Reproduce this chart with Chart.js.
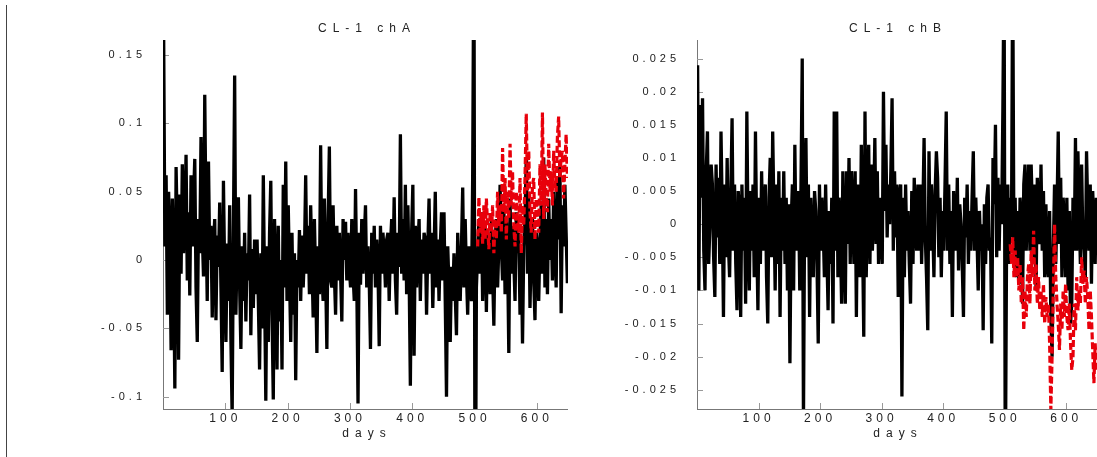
<!DOCTYPE html>
<html>
<head>
<meta charset="utf-8">
<script src="https://cdn.jsdelivr.net/npm/chart.js@4.4.0/dist/chart.umd.min.js"></script>
<style>
  body { margin: 0; width: 1097px; height: 457px; background: #fff; position: relative; overflow: hidden;
         font-family: "Liberation Sans", Arial, sans-serif; }
  .frame { position: absolute; left: 6px; top: 5px; width: 1px; height: 452px; background: #444; }
  .box { position: absolute; top: 0; height: 457px; }
  .lbl { position: absolute; font-size: 12px; color: #222; letter-spacing: 6px; padding-left: 6px;
         white-space: nowrap; transform: translate(-50%, -50%); }
</style>
</head>
<body>
<div class="frame"></div>
<div class="box" style="left:90px;width:478px"><canvas id="chA"></canvas></div>
<div class="box" style="left:610px;width:487px"><canvas id="chB"></canvas></div>
<div class="lbl" style="left:364px;top:28px">CL-1 chA</div>
<div class="lbl" style="left:895px;top:28px">CL-1 chB</div>
<div class="lbl" style="left:364px;top:433px">days</div>
<div class="lbl" style="left:895px;top:433px">days</div>
<script>
const xTicks = [100, 200, 300, 400, 500, 600];
const yTicksA = [-0.1, -0.05, 0, 0.05, 0.1, 0.15];
const yLabelsA = ["-0.1", "-0.05", "0", "0.05", "0.1", "0.15"];
const yTicksB = [-0.025, -0.02, -0.015, -0.01, -0.005, 0, 0.005, 0.01, 0.015, 0.02, 0.025];
const yLabelsB = ["-0.025", "-0.02", "-0.015", "-0.01", "-0.005", "0", "0.005", "0.01", "0.015", "0.02", "0.025"];

// sampled every 2 days; each row of 15 covers 30 days
const step = 2;
const blackStart = 1;
const redStartA = 505;
const redStartB = 509;

const chA = [
  0.170, 0.010, 0.062, -0.040, 0.050, 0.015, -0.066, 0.045, 0.000, -0.094, 0.068, 0.020, -0.073, 0.048, -0.010,
  0.070, 0.005, 0.030, 0.077, -0.015, 0.035, -0.026, 0.062, 0.010, 0.045, 0.074, -0.020, -0.060, 0.030, 0.005,
  0.090, 0.020, -0.012, 0.121, 0.030, -0.030, 0.072, 0.000, 0.025, -0.042, 0.010, 0.030, -0.044, 0.018, -0.005,
  0.042, -0.020, -0.082, 0.058, -0.010, -0.060, 0.012, -0.030, 0.040, -0.058, -0.115, 0.020, 0.135, -0.040, 0.010,
  0.046, -0.020, -0.065, 0.010, -0.030, 0.020, -0.045, 0.005, -0.015, 0.048, -0.055, 0.008, -0.035, 0.015, -0.025,
  0.015, -0.030, -0.080, 0.005, -0.050, 0.062, -0.020, -0.103, 0.010, -0.060, 0.020, 0.058, -0.040, -0.102, 0.030,
  -0.010, -0.080, 0.025, -0.045, 0.000, -0.080, 0.055, -0.020, 0.072, -0.030, 0.040, -0.010, -0.060, 0.020, -0.040,
  0.005, -0.088, 0.000, -0.020, 0.022, -0.030, 0.018, -0.020, 0.005, 0.062, -0.010, 0.025, -0.025, 0.040, 0.000,
  -0.042, 0.030, -0.015, -0.068, 0.010, -0.025, 0.084, -0.010, -0.030, 0.045, -0.010, -0.065, 0.030, 0.083, -0.015,
  -0.020, 0.040, -0.010, -0.040, 0.025, -0.015, 0.020, -0.010, -0.045, 0.030, 0.000, 0.028, -0.015, 0.020, -0.005,
  -0.020, 0.030, -0.010, -0.030, 0.052, -0.015, -0.105, 0.020, -0.018, 0.030, -0.010, 0.015, 0.040, -0.020, 0.010,
  -0.015, -0.065, 0.020, -0.010, 0.025, -0.020, 0.015, -0.005, -0.063, 0.025, -0.010, 0.020, 0.005, -0.020, 0.015,
  0.020, -0.030, 0.010, 0.030, -0.010, 0.046, -0.015, -0.040, 0.020, -0.005, 0.092, -0.010, 0.030, -0.015, 0.055,
  -0.025, 0.040, -0.010, -0.092, 0.020, 0.055, -0.070, 0.025, -0.020, 0.010, 0.030, -0.030, 0.015, -0.010, 0.020,
  0.015, -0.040, 0.010, 0.045, -0.010, 0.020, -0.035, 0.005, 0.050, -0.020, 0.015, -0.030, 0.010, 0.035, -0.015,
  0.035, -0.030, -0.100, 0.010, -0.020, -0.060, -0.005, -0.030, 0.005, -0.025, -0.055, 0.020, -0.010, -0.030, 0.010,
  0.053, -0.020, 0.030, -0.010, -0.040, 0.010, -0.015, -0.030, 0.060, 0.250, -0.250, -0.020, 0.005, 0.030, -0.010,
  0.035, -0.030, 0.010, 0.025, -0.038, 0.020, 0.000, -0.025, 0.030, -0.010, -0.048, 0.015, 0.030, -0.020, 0.010,
  0.055, 0.010, -0.015, 0.040, -0.025, 0.030, 0.005, -0.068, 0.045, -0.010, 0.025, 0.000, -0.030, 0.035, 0.005,
  0.020, -0.040, 0.010, -0.061, 0.010, 0.030, 0.075, -0.010, 0.050, -0.035, 0.010, 0.030, -0.015, -0.044, 0.020,
  0.010, -0.030, 0.015, 0.040, -0.010, 0.075, -0.020, 0.030, -0.025, 0.045, 0.000, 0.030, -0.015, 0.050, 0.010,
  -0.020, 0.060, 0.015, 0.072, -0.039, 0.040, 0.010, 0.055, 0.020, -0.017
];
const chARed = [
  0.010, 0.046, 0.020, 0.035, 0.012, 0.040, 0.015, 0.045, 0.025, 0.008, 0.035, 0.020, 0.040, 0.005, 0.030,
  0.015, 0.050, 0.025, 0.040, 0.020, 0.082, 0.035, 0.060, 0.015, 0.050, 0.030, 0.085, 0.040, 0.065, 0.025,
  0.010, 0.050, 0.030, 0.020, 0.060, 0.005, 0.040, 0.025, 0.060, 0.107, 0.050, 0.080, 0.035, 0.020, 0.055,
  0.060, 0.015, 0.045, 0.030, 0.020, 0.070, 0.040, 0.108, 0.030, 0.070, 0.045, 0.035, 0.085, 0.050, 0.065,
  0.040, 0.080, 0.055, 0.050, 0.090, 0.105, 0.060, 0.075, 0.080, 0.045, 0.070, 0.092, 0.060
];
const chB = [
  0.024, -0.010, 0.018, 0.004, 0.019, -0.004, -0.010, 0.008, 0.014, -0.006, 0.000, 0.009, 0.006, -0.005, -0.011,
  0.009, -0.002, 0.007, -0.006, 0.014, 0.002, -0.014, 0.006, -0.005, 0.010, -0.003, -0.008, 0.005, 0.016, -0.004,
  0.006, -0.006, -0.013, 0.005, 0.002, -0.014, 0.006, -0.004, 0.004, -0.012, 0.017, -0.002, -0.010, 0.005, -0.004,
  0.006, -0.008, 0.014, -0.002, -0.013, 0.004, -0.006, 0.008, -0.004, 0.002, 0.006, -0.008, -0.015, 0.004, 0.010,
  -0.005, 0.014, 0.002, -0.010, 0.006, -0.006, 0.008, -0.014, 0.004, -0.004, 0.008, -0.006, 0.004, -0.010, 0.003,
  -0.021, 0.000, 0.006, -0.010, 0.012, -0.004, 0.002, 0.005, -0.010, 0.006, 0.025, -0.030, 0.004, 0.013, -0.005,
  0.006, -0.014, 0.004, -0.004, -0.008, 0.005, 0.002, -0.006, -0.018, 0.006, -0.004, 0.004, 0.000, -0.008, 0.006,
  -0.004, -0.013, 0.002, -0.006, 0.004, -0.015, 0.017, -0.004, 0.017, -0.008, 0.004, -0.002, -0.012, 0.008, -0.003,
  -0.012, 0.008, -0.003, 0.010, -0.006, 0.008, 0.002, -0.006, 0.008, -0.014, 0.006, -0.004, -0.008, 0.012, -0.002,
  -0.017, 0.017, -0.008, 0.004, 0.012, -0.006, 0.009, -0.004, 0.002, 0.013, -0.003, 0.008, -0.006, 0.004, -0.002,
  -0.006, 0.020, 0.002, 0.012, -0.002, 0.006, 0.000, 0.008, 0.019, -0.004, 0.008, -0.002, 0.006, -0.011, 0.004,
  0.006, -0.026, 0.004, -0.008, 0.006, -0.004, 0.002, -0.006, -0.012, 0.005, -0.006, 0.007, 0.000, -0.004, 0.006,
  -0.004, 0.006, -0.006, 0.002, 0.013, -0.002, -0.008, -0.016, 0.011, -0.004, 0.006, 0.000, -0.008, 0.005, 0.011,
  0.007, -0.005, 0.004, -0.008, 0.002, -0.004, 0.006, 0.017, -0.004, 0.006, -0.006, 0.002, -0.014, 0.005, -0.002,
  -0.004, 0.007, -0.007, 0.003, 0.000, -0.006, -0.014, 0.004, -0.002, 0.006, -0.006, 0.002, -0.004, 0.004, 0.011,
  -0.004, 0.004, -0.002, -0.010, 0.002, -0.004, 0.000, -0.016, 0.003, -0.006, 0.004, 0.006, -0.004, -0.002, -0.018,
  0.010, 0.003, 0.015, -0.005, 0.007, -0.004, 0.006, 0.000, 0.017, 0.040, -0.040, -0.004, 0.006, -0.006, 0.004,
  -0.002, 0.040, -0.004, 0.004, -0.008, 0.002, -0.009, 0.004, 0.000, -0.012, 0.006, 0.009, -0.004, 0.003, 0.009,
  -0.004, 0.009, 0.002, -0.006, 0.006, -0.010, 0.007, 0.000, -0.003, 0.009, -0.004, 0.005, -0.008, 0.003, -0.006,
  -0.008, 0.002, -0.014, -0.020, -0.004, 0.006, -0.006, 0.002, 0.014, -0.003, 0.007, -0.008, 0.004, 0.000, -0.008,
  0.004, -0.010, 0.002, -0.015, -0.012, 0.004, -0.004, 0.013, -0.004, 0.011, 0.002, -0.006, 0.009, -0.002, -0.004,
  -0.008, 0.011, 0.002, -0.004, 0.006, -0.009, 0.005, 0.000, -0.006, 0.004
];
const chBRed = [
  -0.003, -0.006, -0.002, -0.008, -0.004, -0.008, -0.005, -0.010, -0.006, -0.012, -0.008, -0.016, -0.010, -0.014, -0.008,
  -0.006, -0.012, -0.004, -0.008, -0.001, -0.010, -0.006, -0.012, -0.008, -0.013, -0.010, -0.014, -0.009, -0.015, -0.011,
  -0.014, -0.012, -0.018, -0.028, -0.020, -0.010, 0.000, -0.008, -0.012, -0.015, -0.019, -0.012, -0.016, -0.010, -0.014,
  -0.009, -0.014, -0.016, -0.012, -0.018, -0.022, -0.020, -0.012, -0.016, -0.008, -0.013, -0.010, -0.012, -0.005, -0.009,
  -0.007, -0.012, -0.008, -0.011, -0.016, -0.010, -0.014, -0.019, -0.024, -0.018, -0.022
];

function points(vals, start) {
  return vals.map((v, i) => ({ x: start + step * i, y: v }));
}

const fontFamily = '"Liberation Sans", Arial, sans-serif';

// wide letter spacing on the tick labels
const spacing = {
  id: 'spacing',
  beforeDraw(chart) { chart.ctx.letterSpacing = '4px'; }
};

// short tick marks pointing into the plot
const innerTicks = {
  id: 'innerTicks',
  beforeDatasetsDraw(chart) {
    const { ctx, chartArea: a, scales: { x, y } } = chart;
    ctx.save();
    ctx.strokeStyle = '#999';
    ctx.lineWidth = 1;
    ctx.beginPath();
    y.ticks.forEach(t => {
      const py = Math.round(y.getPixelForValue(t.value)) + 0.5;
      ctx.moveTo(a.left, py);
      ctx.lineTo(a.left + 6, py);
    });
    x.ticks.forEach(t => {
      const px = Math.round(x.getPixelForValue(t.value)) + 0.5;
      ctx.moveTo(px, a.bottom);
      ctx.lineTo(px, a.bottom - 6);
    });
    ctx.stroke();
    ctx.restore();
  }
};

function makeChart(id, black, red, redStart, yMax, yTicks, yLabels, yWidth) {
  new Chart(document.getElementById(id), {
    type: 'line',
    data: {
      datasets: [
        {
          data: points(red, redStart),
          borderColor: '#e8000b',
          borderWidth: 3.2,
          borderDash: [7, 3],
          borderJoinStyle: 'bevel',
          pointRadius: 0,
          order: 1
        },
        {
          data: points(black, blackStart),
          borderColor: '#000',
          borderWidth: 3.3,
          borderJoinStyle: 'bevel',
          pointRadius: 0,
          order: 2
        }
      ]
    },
    options: {
      responsive: true,
      maintainAspectRatio: false,
      animation: false,
      layout: { padding: { top: 40, left: 0, right: 0, bottom: 0 } },
      plugins: { legend: { display: false }, tooltip: { enabled: false } },
      scales: {
        x: {
          type: 'linear',
          min: 0,
          max: 650,
          afterBuildTicks: s => { s.ticks = xTicks.map(v => ({ value: v })); },
          afterFit: s => { s.height = 48; },
          grid: { display: false },
          border: { color: '#777', width: 1 },
          ticks: { autoSkip: false, maxRotation: 0, padding: -6, color: '#222',
                   font: { size: 12, family: fontFamily }, callback: v => String(v) }
        },
        y: {
          min: -yMax[1],
          max: yMax[0],
          afterBuildTicks: s => { s.ticks = yTicks.map(v => ({ value: v })); },
          afterFit: s => { s.width = yWidth; },
          grid: { display: false },
          border: { color: '#777', width: 1 },
          ticks: { autoSkip: false, padding: 9, color: '#222',
                   font: { size: 11, family: fontFamily },
                   callback: v => yLabels[yTicks.indexOf(v)] }
        }
      }
    },
    plugins: [spacing, innerTicks]
  });
}

makeChart('chA', chA, chARed, redStartA, [0.161, 0.109], yTicksA, yLabelsA, 73);
makeChart('chB', chB, chBRed, redStartB, [0.0278, 0.0279], yTicksB, yLabelsB, 87);
</script>
</body>
</html>
